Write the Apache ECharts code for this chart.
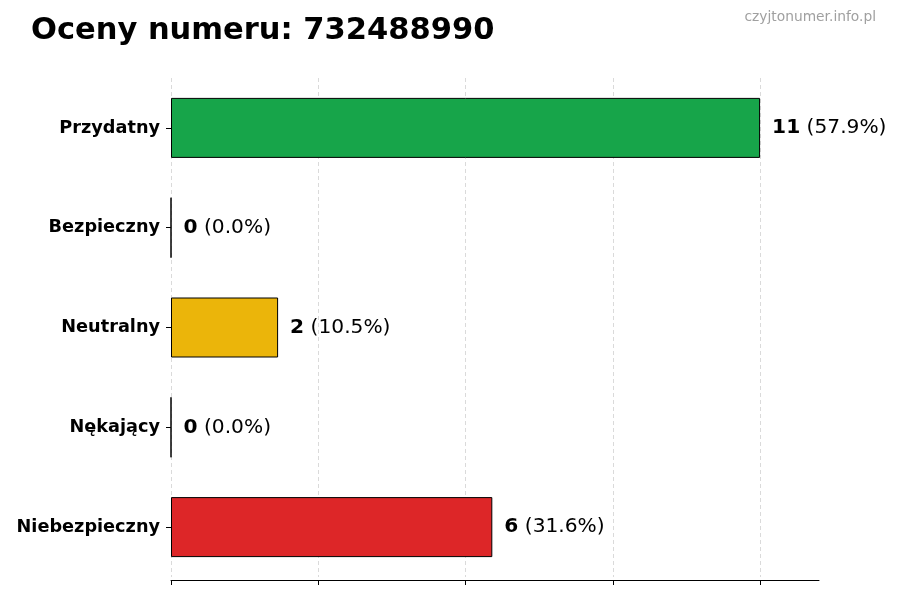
<!DOCTYPE html>
<html><head><meta charset="utf-8">
<script src="https://cdn.jsdelivr.net/npm/echarts@6/dist/echarts.min.js"></script>
<style>html,body{margin:0;padding:0;background:#fff}#c{width:900px;height:600px}</style>
</head><body><div id="c"></div>
<script>
const categories = ['Przydatny', 'Bezpieczny', 'Neutralny', 'Nękający', 'Niebezpieczny'];
const values = [11, 0, 2, 0, 6];
const percents = ['57.9%', '0.0%', '10.5%', '0.0%', '31.6%'];
const colors = ['#17a54a', '#17a54a', '#ebb50a', '#dd2628', '#dd2628'];
const xTicks = [0, 2.75, 5.5, 8.25, 11];
const xMax = 12.1;

const chart = echarts.init(document.getElementById('c'));
const FONT = 'DejaVu Sans';
chart.setOption({
  animation: false,
  textStyle: { fontFamily: FONT },
  title: [
    { text: 'Oceny numeru: 732488990', left: 31, top: 16, padding: 0,
      textStyle: { fontFamily: FONT, fontSize: 30.5, fontWeight: 'bold', color: '#000' } },
    { text: 'czyjtonumer.info.pl', right: 24, top: 10, padding: 0,
      textStyle: { fontFamily: FONT, fontSize: 13.8, fontWeight: 'normal', color: '#a0a0a0' } }
  ],
  grid: { left: 171, right: 81, top: 78, height: 499 },
  xAxis: {
    type: 'value', min: 0, max: xMax, offset: 3,
    axisLine: { show: true, lineStyle: { color: '#000', width: 1 } },
    axisTick: { show: true, length: 5, lineStyle: { color: '#000' }, customValues: xTicks },
    axisLabel: { show: false, customValues: xTicks },
    splitLine: { show: true, lineStyle: { color: '#d0d0d0', type: [4, 3], width: 0.8 } }
  },
  yAxis: {
    type: 'category', inverse: true, data: categories,
    axisLine: { show: false },
    axisTick: { show: true, length: 5, alignWithLabel: true, lineStyle: { color: '#000' } },
    axisLabel: { fontFamily: FONT, fontSize: 17.7, fontWeight: 'bold', color: '#000', margin: 11,
      padding: [3, 0, 0, 0] }
  },
  series: [{
    type: 'bar', barWidth: 60,
    data: values.map((v, i) => ({ value: v, itemStyle: { color: colors[i] } })),
    itemStyle: { borderColor: '#000', borderWidth: 1 },
    label: {
      show: true, position: 'right', distance: 12,
      formatter: p => '{b|' + values[p.dataIndex] + '}{n| (' + percents[p.dataIndex] + ')}',
      rich: {
        b: { fontFamily: FONT, fontSize: 20.2, fontWeight: 'bold', color: '#000' },
        n: { fontFamily: FONT, fontSize: 20.2, color: '#000' }
      }
    }
  }]
});
</script></body></html>
